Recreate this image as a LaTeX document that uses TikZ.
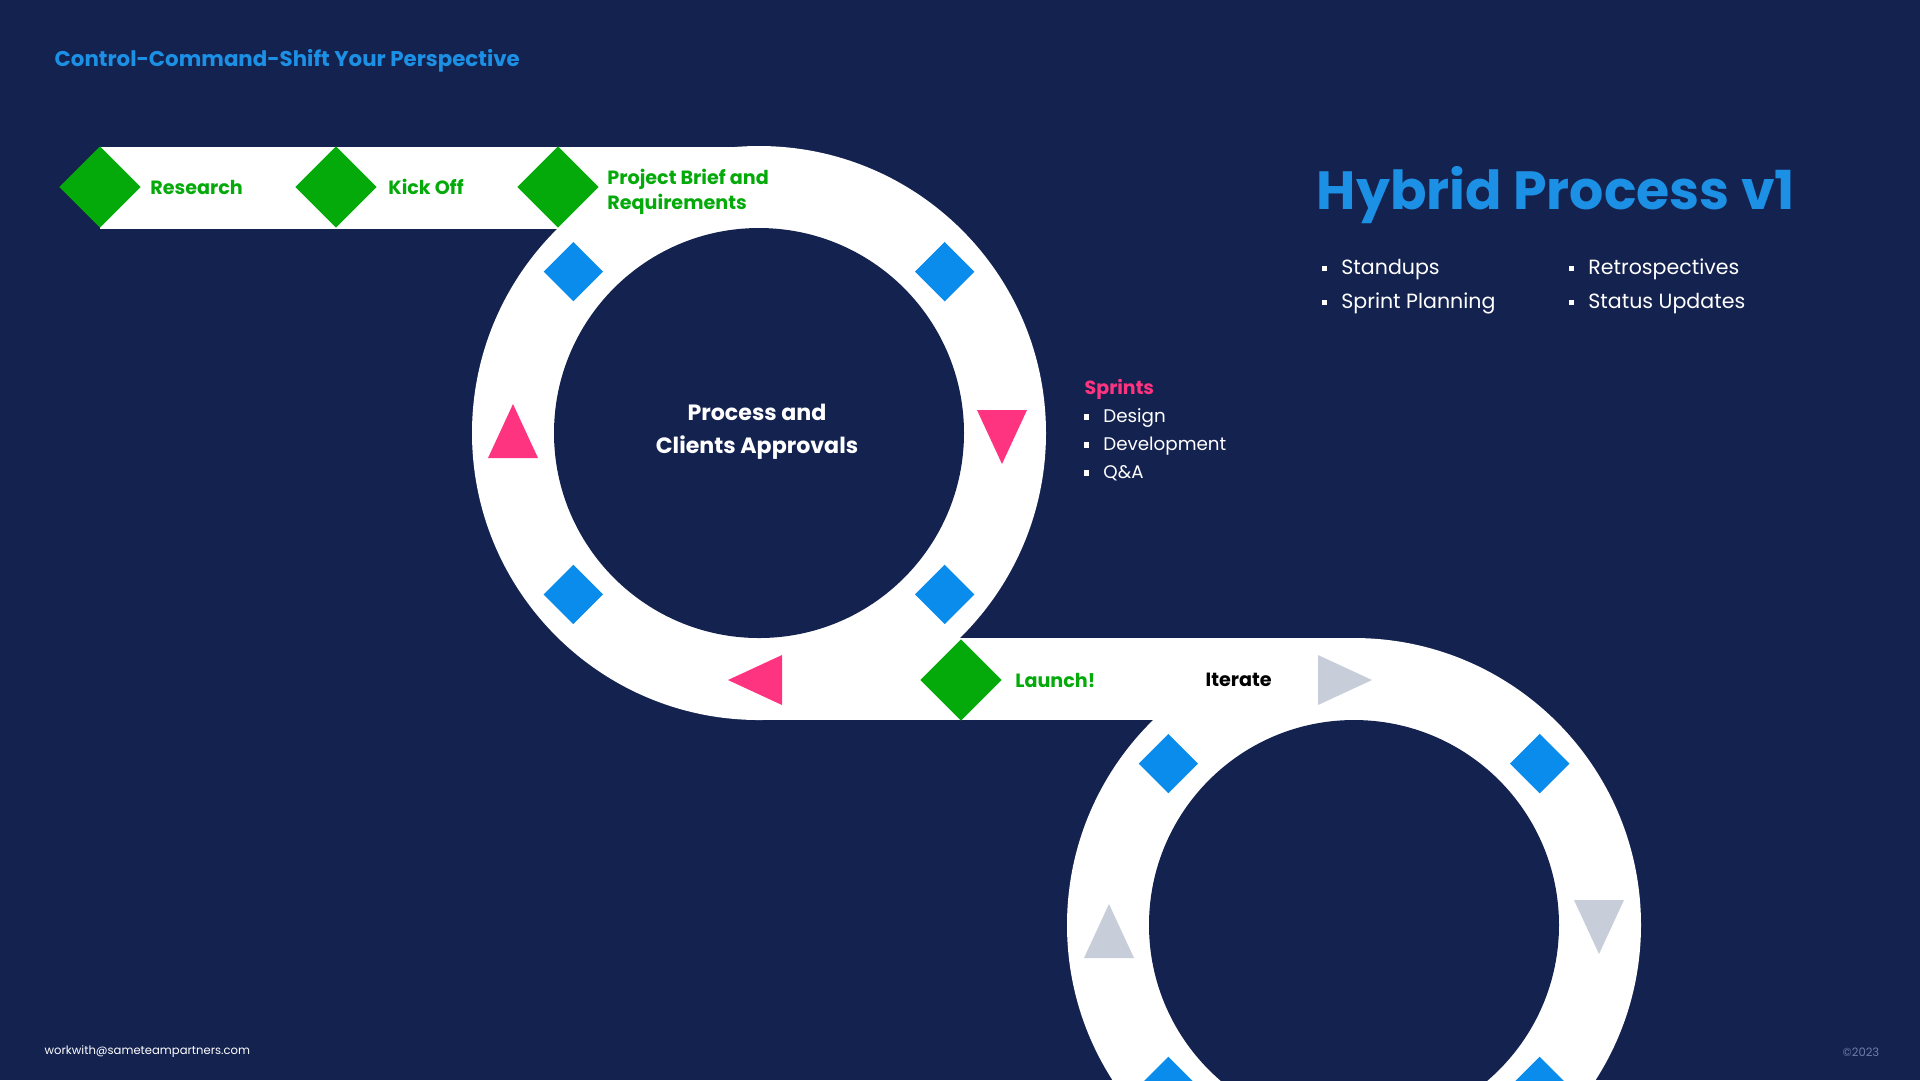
\documentclass[tikz,border=0pt]{standalone}
\usepackage{fontspec}
\setmainfont{Poppins}
\usetikzlibrary{positioning,shapes.geometric}
\definecolor{night}{RGB}{20,34,80}
\definecolor{sky}{RGB}{28,144,228}
\definecolor{azure}{RGB}{10,140,236}
\definecolor{grass}{RGB}{4,170,10}
\definecolor{rose}{RGB}{255,52,128}
\definecolor{mist}{RGB}{200,205,218}
\definecolor{dim}{RGB}{110,124,168}
\newcommand\sqb{\raisebox{0.3ex}{\rule{1.6pt}{1.6pt}}\hspace{4pt}}
\tikzset{
  gem/.style={diamond,fill=#1,inner sep=0pt,minimum width=8.2mm,minimum height=8.2mm},
  gem/.default=grass,
  chip/.style={diamond,fill=azure,inner sep=0pt,minimum width=6mm,minimum height=6mm},
  steplabel/.style={font=\fontsize{5.45}{7.3}\selectfont\bfseries,text=grass,inner sep=0pt,align=left},
  item/.style={font=\fontsize{#1}{7}\selectfont,text=white,inner sep=0pt,anchor=west,
    text height=1.6ex,text depth=0.4ex},
  item/.default=5.85,
  % arrow marks on the track
  pics/tri/.style={code={\fill[#1] (27,0) -- (-27,25) -- (-27,-25) -- cycle;}},
  pics/tri/.default=rose,
}

\begin{document}
\begin{tikzpicture}[x=0.1mm,y=0.1mm]
  \useasboundingbox (0,0) rectangle (1920,-1080);
  \fill[night] (0,0) rectangle (1920,-1080);
  % track
  \fill[white] (100,-147) rectangle (759,-229);
  \fill[white] (759,-638) rectangle (1354,-720);
  \fill[white] (759,-433) circle (287);
  \fill[white] (1354,-925) circle (287);
  \fill[night] (759,-433) circle (205);
  \fill[night] (1354,-925) circle (205);
  % milestones
  \node[gem] (research) at (100,-187) {};
  \node[gem] (kickoff) at (336,-187) {};
  \node[gem] (brief) at (558,-187) {};
  \node[gem] (launch) at (961,-680) {};
  \node[steplabel,right=0.8mm of research] (researchtxt) {Research};
  \node[steplabel,right=1mm of kickoff] (kickofftxt) {Kick Off};
  \node[steplabel,right=0.7mm of brief,yshift=-0.5mm] (brieftxt) {Project Brief and\\Requirements};
  \node[steplabel,right=1.2mm of launch] (launchtxt) {Launch!};
  \node[steplabel,text=black,anchor=west] (iterate) at (1205,-680) {Iterate};
  % loop markers
  \foreach \a in {41,139,221,319}{
    \node[chip] (sprint\a) at ([shift={(\a:246)}]759,-433) {};
    \node[chip] (again\a) at ([shift={(\a:246)}]1354,-925) {};
  }
  \pic[rotate=90] at (513,-431) {tri};
  \pic[rotate=-90] at (1002,-437) {tri};
  \pic[rotate=180] at (755,-680) {tri};
  \pic at (1345,-680) {tri=mist};
  \pic[rotate=90] at (1109,-931) {tri=mist};
  \pic[rotate=-90] at (1599,-927) {tri=mist};
  \node[font=\fontsize{6.3}{9.4}\selectfont\bfseries,text=white,align=center] (hub) at (757,-432) {Process and\\Clients Approvals};
  % headings
  \node[font=\fontsize{6.07}{7}\selectfont\bfseries,text=sky,anchor=west,inner sep=0pt] (tagline) at (54,-61) {Control-Command-Shift Your Perspective};
  \node[font=\fontsize{15.3}{18}\selectfont\bfseries,text=sky,anchor=west,inner sep=0pt] (headline) at (1316,-195) {Hybrid Process v1};
  \node[item] (standups) at (1321,-263) {\sqb Standups};
  \node[item] (planning) at (1321,-297) {\sqb Sprint Planning};
  \node[item] (retro) at (1568,-263) {\sqb Retrospectives};
  \node[item] (status) at (1568,-297) {\sqb Status Updates};
  \node[font=\fontsize{5.4}{7}\selectfont\bfseries,text=rose,anchor=west,inner sep=0pt] (sprints) at (1084,-389) {Sprints};
  \node[item=5.2] (design) at (1083,-411) {\sqb Design};
  \node[item=5.2] (develop) at (1083,-439) {\sqb Development};
  \node[item=5.2] (qa) at (1083,-467) {\sqb Q\&A};
  % footer
  \node[font=\fontsize{3.3}{4}\selectfont,text=white,anchor=west,inner sep=0pt] (mail) at (44,-1052) {workwith@sameteampartners.com};
  \node[font=\fontsize{3.3}{4}\selectfont,text=dim,anchor=east,inner sep=0pt] (year) at (1880,-1052) {©2023};
\end{tikzpicture}
\end{document}
